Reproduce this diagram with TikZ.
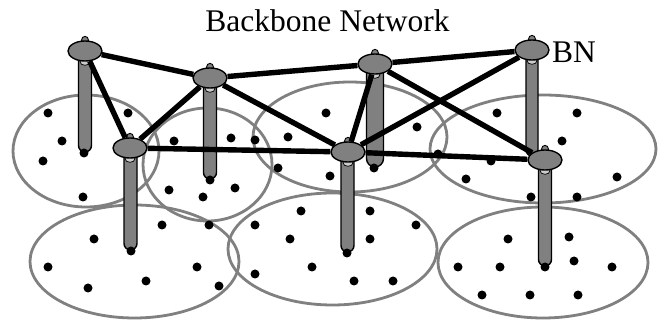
\documentclass[tikz,border=0pt]{standalone}
\usepackage{fontspec}
\setmainfont{Liberation Serif}
\usetikzlibrary{shapes.geometric}

\pgfdeclarelayer{cells}
\pgfdeclarelayer{pillars}
\pgfdeclarelayer{links}
\pgfsetlayers{cells,pillars,links,main}

\tikzset{
  bbnode/.style={ellipse, fill=gray, draw=black, line width=1.4pt,
    minimum width=34pt, minimum height=20pt, inner sep=0pt},
  cellring/.style={draw=gray, line width=2.8pt},
  bblink/.style={draw=black, line width=5.4pt},
  mastbody/.style={fill=gray, draw=black, line width=1.4pt},
  undercap/.style={fill=gray!40, draw=black, line width=0.7pt},
  topbump/.style={fill=gray, draw=black, line width=0.9pt},
  hostdot/.style={fill=black},
  bigtext/.style={font=\fontsize{31.5}{36}\selectfont, inner sep=0pt},
}

% mast below a backbone node: x, top y, half width, bottom y
\newcommand\drawmast[4]{%
  \draw[mastbody] (#1-#3,#2) -- (#1-#3,#4-#3)
    arc[start angle=180,end angle=0,radius=#3] -- (#1+#3,#2) -- cycle;}
% node decorations: small top bump and light underside cap
\newcommand\nodetrim[1]{%
  \draw[topbump] (#1.north) ellipse[x radius=3.5,y radius=4];
  \draw[undercap] (#1.south) ellipse[x radius=5,y radius=3.6];}

\begin{document}
\begin{tikzpicture}[x=1pt,y=-1pt]
\useasboundingbox (0,0) rectangle (659,320);

% backbone nodes
\node[bbnode] (A) at (85,51) {};
\node[bbnode] (B) at (210,78) {};
\node[bbnode] (C) at (375,64) {};
\node[bbnode] (D) at (532,50) {};
\node[bbnode] (E) at (130,148) {};
\node[bbnode] (F) at (348,152) {};
\node[bbnode] (G) at (545,160) {};

\node[bigtext, anchor=base] (title) at (327.5,32) {Backbone Network};
\node[bigtext, anchor=base west] (bn) at (552,63) {BN};

% coverage cells
\begin{pgfonlayer}{cells}
  \fill[white] (0,0) rectangle (659,320);
  \draw[cellring] (86,151)    ellipse[x radius=73,   y radius=56];
  \draw[cellring] (207.5,164.5) ellipse[x radius=64.5, y radius=56.5];
  \draw[cellring] (350,137)   ellipse[x radius=97,   y radius=55];
  \draw[cellring] (543,149)   ellipse[x radius=113,  y radius=54];
  \draw[cellring] (134.5,261.5) ellipse[x radius=104.5, y radius=56.5];
  \draw[cellring] (332.5,249) ellipse[x radius=104.5, y radius=56];
  \draw[cellring] (543,262.5) ellipse[x radius=105,  y radius=55.5];
\end{pgfonlayer}

% masts
\begin{pgfonlayer}{pillars}
  \drawmast{85}{51}{6.5}{152}
  \drawmast{210}{78}{6.5}{179}
  \drawmast{375}{64}{8.5}{167}
  \drawmast{532}{50}{6}{156}
  \drawmast{130.5}{148}{6.5}{250}
  \drawmast{347.5}{152}{6.5}{252}
  \drawmast{545}{160}{6.5}{266}
  \foreach \n in {A,B,C,D,E,F,G} {\nodetrim{\n}}
\end{pgfonlayer}

% backbone links
\begin{pgfonlayer}{links}
  \draw[bblink] (A) -- (B);
  \draw[bblink] (A) -- (E);
  \draw[bblink] (B) -- (E);
  \draw[bblink] (B) -- (C);
  \draw[bblink] (B) -- (F);
  \draw[bblink] (C) -- (D);
  \draw[bblink] (C) -- (F);
  \draw[bblink] (C) -- (G);
  \draw[bblink] (D) -- (F);
  \draw[bblink] (E) -- (F);
  \draw[bblink] (F) -- (G);
\end{pgfonlayer}

% terminals
\foreach \p in {
  (48,113),(128,113),(62,141),(43,161),(83,197),(84,153),
  (174,141),(231,138),(169,190),(203,197),(235,188),(210,180),
  (326,113),(255,140),(288,137),(417,127),(278,168),(330,176),(374,168),(438,154),
  (497,113),(577,113),(562,141),(491,161),(466,179),(617,177),(531,197),(577,197),
  (162,225),(209,225),(94,239),(48,267),(197,267),(146,281),(88,288),(219,286),(131,251),
  (301,211),(255,225),(290,239),(255,274),(312,267),(370,211),(416,225),(370,239),(354,281),(393,281),(347,253),
  (508,239),(569,237),(458,267),(500,267),(574,261),(612,267),(482,295),(530,295),(578,295),(545,267)}
  {\fill[hostdot] \p circle[radius=4.5];}
\end{tikzpicture}
\end{document}
